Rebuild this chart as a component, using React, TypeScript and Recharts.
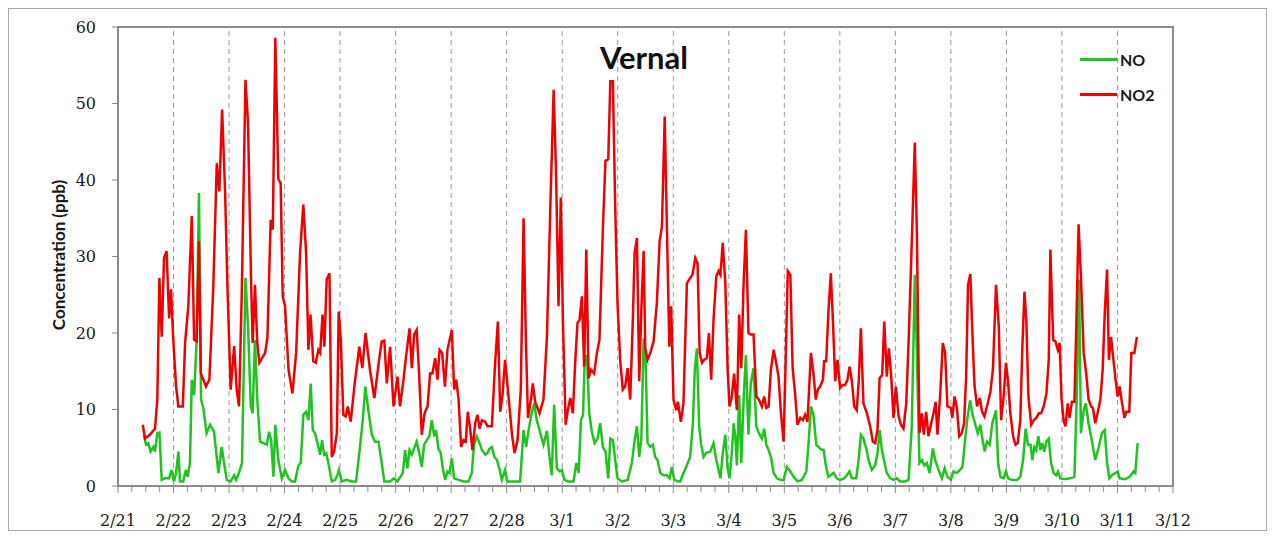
import React from "react";
import {
  LineChart,
  Line,
  XAxis,
  YAxis,
  ReferenceLine,
  ReferenceArea,
} from "recharts";

// x values are hours after 2/21 00:00
const dayLabels = [
  "2/21", "2/22", "2/23", "2/24", "2/25", "2/26", "2/27", "2/28", "3/1", "3/2",
  "3/3", "3/4", "3/5", "3/6", "3/7", "3/8", "3/9", "3/10", "3/11", "3/12",
];
const yTicks = [0, 10, 20, 30, 40, 50, 60];

const no2Hours = [
  10.7, 11.7, 13.8, 16.0, 17.0, 17.9, 18.9, 19.9, 21.0, 22.1, 22.9, 23.9, 25.1, 26.1, 28.0, 29.0,
  30.4, 31.9, 32.9, 34.0, 35.0, 35.8, 36.9, 38.0, 39.5, 41.2, 42.7, 43.8, 45.0, 46.3, 47.3, 48.7,
  50.2, 51.3, 52.3, 53.5, 55.1, 56.2, 57.5, 58.2, 59.2, 60.2, 61.1, 63.6, 64.6, 66.0, 66.9, 68.0,
  69.3, 70.3, 71.2, 72.2, 73.7, 75.4, 77.0, 78.7, 80.1, 81.3, 82.3, 83.2, 84.4, 85.5, 86.6, 87.4,
  88.4, 89.2, 90.2, 91.4, 92.4, 93.4, 94.6, 95.4, 96.3, 97.4, 98.4, 99.3, 100.6, 102.3, 104.3, 105.6,
  107.0, 108.9, 110.8, 112.7, 114.0, 115.1, 116.2, 117.6, 119.1, 120.8, 121.9, 123.4, 124.5, 126.0,
  127.0, 128.0, 129.1, 130.2, 131.3, 132.5, 133.8, 134.9, 135.9, 137.1, 138.1, 139.0, 140.1, 141.3,
  142.4, 144.3, 145.3, 146.2, 147.2, 148.3, 149.3, 150.3, 151.2, 152.2, 153.2, 154.4, 155.4, 156.3,
  157.3, 158.7, 159.7, 161.6, 163.0, 164.2, 165.2, 166.2, 167.3, 168.8, 170.3, 171.4, 172.7, 174.1,
  175.3, 176.3, 177.2, 178.5, 179.3, 180.3, 182.2, 183.9, 185.4, 186.8, 188.3, 189.3, 190.4, 191.4,
  192.3, 193.5, 194.3, 195.5, 196.6, 197.6, 198.6, 199.5, 200.5, 201.5, 202.4, 203.4, 204.4, 205.8,
  207.0, 208.1, 209.6, 210.7, 211.9, 212.8, 213.9, 214.9, 215.9, 217.1, 218.2, 219.2, 220.3, 221.4,
  222.6, 223.3, 224.3, 225.3, 226.2, 227.2, 227.9, 228.9, 230.1, 231.5, 232.9, 234.1, 235.1, 236.3,
  237.3, 238.3, 239.1, 240.1, 241.3, 242.0, 243.3, 244.4, 245.9, 247.3, 248.3, 249.5, 250.5, 251.4,
  252.4, 253.4, 254.5, 255.4, 256.4, 257.4, 258.6, 259.6, 260.4, 261.4, 262.5, 263.5, 264.3, 265.3,
  266.3, 267.5, 268.5, 269.4, 270.4, 271.4, 272.5, 273.5, 274.7, 275.9, 277.0, 278.3, 279.3, 280.2,
  281.2, 282.2, 283.4, 284.5, 285.5, 286.5, 287.7, 288.8, 289.5, 290.6, 291.6, 292.7, 293.7, 294.9,
  296.0, 297.0, 298.0, 299.5, 300.6, 301.6, 302.5, 303.5, 304.7, 305.2, 306.1, 307.1, 308.1, 309.0,
  310.0, 311.0, 312.1, 313.2, 314.3, 315.3, 316.2, 317.2, 318.2, 319.3, 320.2, 321.1, 322.2, 323.7,
  325.1, 326.3, 327.3, 328.3, 329.2, 330.3, 331.2, 332.3, 333.2, 334.2, 335.2, 336.2, 337.4, 338.4,
  339.5, 340.7, 341.8, 343.3, 344.4, 345.3, 346.4, 347.5, 348.3, 349.3, 350.3, 351.5, 352.5, 353.4,
  354.2, 355.4, 356.5, 357.5, 358.5, 360.0, 360.6, 361.6, 362.6, 363.6, 364.7, 365.7, 366.6, 367.4,
  368.4, 369.4, 370.2, 371.3, 372.5, 373.5, 374.5, 375.6, 377.1, 378.2, 379.5, 380.7, 381.7, 382.8,
  383.8, 384.7, 385.7, 386.9, 387.9, 388.9, 390.0, 390.9, 391.8, 392.6, 393.5, 394.7, 395.8, 396.9,
  398.0, 399.0, 400.1, 401.3, 402.3, 403.0, 404.2, 405.2, 406.2, 407.0, 407.8, 408.7, 409.5, 410.5,
  411.3, 412.3, 413.4, 414.2, 415.2, 416.2, 417.4, 418.5, 419.5, 420.6, 421.4, 422.4, 423.4, 424.6,
  425.6, 426.5, 427.5, 428.3, 429.2, 430.1, 431.1, 432.1, 432.9, 433.9, 435.0, 435.8, 437.1, 438.0,
  439.3, 440.4,
];
const no2Values = [
  8.0, 6.2, 6.7, 7.5, 11.3, 27.2, 19.5, 29.8, 30.7, 21.9, 25.7, 19.1, 13.0, 10.4, 10.4, 18.7,
  23.5, 35.3, 19.1, 18.9, 32.0, 14.7, 13.9, 13.0, 13.9, 26.1, 42.2, 38.5, 49.2, 38.3, 26.1, 12.6,
  18.3, 12.6, 10.4, 25.2, 53.1, 47.5, 27.0, 18.7, 26.3, 18.7, 16.1, 17.4, 19.5, 34.8, 33.5, 58.6,
  40.1, 39.6, 24.8, 23.5, 15.2, 12.1, 17.4, 30.5, 36.8, 30.5, 17.8, 22.4, 16.3, 16.1, 17.8, 17.4,
  22.4, 18.2, 27.0, 27.8, 3.8, 4.5, 6.9, 22.8, 19.1, 9.3, 9.1, 10.4, 8.4, 13.4, 18.2, 15.4,
  20.0, 15.2, 11.5, 16.1, 18.9, 19.0, 13.4, 18.2, 10.4, 14.3, 10.4, 13.9, 16.9, 20.6,
  15.4, 19.8, 20.4, 14.3, 6.7, 9.5, 10.4, 14.7, 14.7, 16.7, 13.9, 17.8, 17.4, 13.0,
  17.8, 20.4, 12.6, 13.9, 11.3, 5.1, 6.0, 5.8, 9.7, 7.5, 4.7, 8.2, 9.3, 7.5,
  8.6, 8.4, 7.8, 7.8, 16.1, 21.5, 9.7, 11.9, 16.5, 11.7, 6.7, 4.3, 6.0, 12.6,
  35.0, 19.1, 8.9, 11.3, 13.4, 11.0, 9.5, 11.3, 19.5, 35.7, 51.8, 41.4, 23.5, 37.7,
  21.7, 8.0, 9.7, 11.5, 9.5, 16.1, 21.3, 21.7, 24.8, 15.6, 30.9, 14.1, 15.2, 14.7,
  17.4, 19.1, 33.9, 42.5, 42.7, 52.9, 52.9, 36.6, 23.9, 16.3, 12.6, 13.0, 15.4, 11.3,
  22.4, 30.5, 32.4, 13.7, 23.0, 30.7, 18.0, 16.5, 17.4, 18.9, 23.9, 32.0, 33.9, 48.3,
  33.1, 18.2, 23.5, 11.3, 9.9, 11.0, 8.4, 10.8, 26.5, 27.2, 27.6, 29.8, 29.1, 17.4,
  16.1, 16.5, 16.7, 20.0, 13.9, 21.7, 27.4, 28.1, 27.6, 31.8, 26.5, 15.2, 10.4, 11.7,
  14.7, 9.9, 22.4, 15.4, 26.5, 33.5, 20.0, 19.8, 19.8, 11.7, 11.3, 10.4, 11.7, 10.2,
  10.4, 15.2, 17.8, 16.1, 14.3, 9.7, 5.8, 19.1, 28.1, 27.6, 15.4, 11.9, 8.0, 8.9,
  8.6, 9.3, 8.4, 17.4, 14.7, 11.3, 12.6, 13.0, 13.9, 16.3, 16.3, 23.0, 27.8, 21.7,
  13.7, 16.5, 12.8, 13.2, 13.2, 13.9, 15.6, 13.7, 10.4, 9.9, 13.9, 20.6, 10.8, 9.5,
  7.8, 5.8, 5.6, 7.5, 14.1, 14.5, 21.5, 14.3, 18.0, 14.3, 8.9, 13.0, 9.1, 8.0,
  7.5, 10.8, 19.5, 33.9, 44.9, 33.1, 6.9, 9.5, 6.7, 9.7, 6.5, 8.2, 9.5, 11.0,
  6.7, 12.1, 18.7, 17.4, 10.4, 10.2, 8.9, 11.7, 10.2, 6.5, 6.9, 8.2, 14.3, 26.3,
  27.7, 19.1, 13.2, 10.4, 11.5, 9.7, 9.1, 10.4, 12.3, 15.4, 26.3, 20.9, 8.6, 11.7,
  16.1, 13.7, 9.5, 6.5, 5.4, 5.6, 8.6, 18.2, 25.4, 21.7, 11.7, 8.0, 8.6, 8.9,
  9.5, 9.5, 10.4, 12.1, 16.5, 30.9, 19.1, 18.9, 17.8, 18.7, 11.5, 8.6, 7.8, 10.8,
  8.9, 11.0, 11.0, 20.9, 34.2, 27.4, 17.4, 14.7, 11.3, 10.4, 10.2, 8.2, 9.5, 11.3,
  15.2, 22.6, 28.3, 16.5, 19.5, 16.9, 14.1, 11.7, 13.0, 11.0, 8.9, 9.7, 9.7, 17.4,
  17.4, 19.5,
];

const noHours = [
  11.2, 12.1, 13.1, 14.1, 15.3, 16.0, 17.0, 17.9, 18.9, 20.3, 22.1, 23.2, 24.2, 25.1, 26.1, 26.8,
  28.2, 29.3, 30.1, 31.1, 31.9, 32.9, 34.0, 35.0, 35.9, 36.9, 38.3, 39.8, 41.5, 43.4, 44.8, 46.0,
  47.0, 48.7, 50.2, 51.0, 52.5, 53.6, 55.1, 56.2, 57.4, 58.2, 59.2, 60.2, 61.4, 62.9, 64.3, 65.3,
  66.2, 67.2, 68.0, 69.3, 70.8, 72.2, 73.7, 75.1, 76.5, 78.0, 79.0, 80.1, 81.3, 82.3, 83.3, 84.2,
  85.2, 86.2, 87.4, 88.2, 89.1, 90.0, 91.1, 92.4, 93.8, 94.8, 95.5, 96.7, 98.8, 101.0, 102.9, 104.6,
  105.8, 106.9, 108.2, 109.7, 111.1, 112.6, 114.0, 115.1, 117.6, 119.3, 120.8, 123.1, 124.1, 125.1,
  126.0, 127.0, 128.0, 129.1, 130.2, 131.3, 132.3, 133.5, 134.6, 135.6, 136.7, 137.5, 138.5, 139.5,
  140.4, 141.4, 142.4, 143.3, 144.3, 145.3, 147.2, 149.3, 151.5, 152.9, 153.9, 155.1, 156.3, 157.3,
  158.7, 159.7, 160.6, 161.6, 162.7, 163.8, 164.8, 165.9, 167.3, 168.3, 170.9, 173.8, 175.3, 176.4,
  177.5, 178.9, 179.9, 181.0, 182.2, 183.9, 185.4, 186.5, 187.5, 188.5, 189.7, 190.9, 191.9, 192.9,
  194.7, 196.9, 198.1, 199.1, 200.1, 201.0, 201.8, 202.7, 203.7, 204.8, 206.0, 207.3, 208.4, 209.6,
  210.7, 211.9, 212.8, 213.9, 214.9, 215.9, 217.8, 220.3, 222.1, 223.3, 224.3, 225.3, 226.2, 227.2,
  228.0, 228.9, 230.1, 231.2, 232.2, 233.2, 234.4, 235.8, 237.3, 238.4, 239.4, 240.4, 242.3, 243.0,
  244.4, 245.9, 247.3, 248.5, 249.3, 250.2, 251.2, 252.1, 253.1, 254.2, 256.0, 257.4, 258.6, 259.6,
  260.4, 261.4, 262.5, 263.5, 264.3, 265.3, 266.1, 266.8, 267.5, 268.5, 269.4, 270.4, 271.4, 272.5,
  273.5, 274.7, 275.9, 277.0, 278.3, 279.3, 280.2, 281.2, 282.2, 283.4, 284.8, 286.5, 287.7, 289.1,
  290.6, 292.0, 293.7, 295.6, 297.5, 298.5, 299.5, 300.6, 301.8, 302.8, 303.8, 305.0, 305.9, 307.0,
  308.1, 309.3, 310.7, 312.1, 313.9, 315.0, 316.2, 317.2, 319.1, 320.1, 321.1, 322.2, 323.4, 324.4,
  325.8, 327.3, 328.3, 329.2, 330.2, 331.2, 332.3, 333.8, 335.2, 336.6, 338.1, 340.2, 341.7, 343.1,
  344.4, 345.3, 346.4, 347.5, 348.5, 349.6, 350.8, 352.2, 353.2, 354.7, 356.1, 357.3, 358.5, 360.0,
  361.1, 362.3, 363.3, 365.0, 366.0, 367.1, 368.3, 369.4, 370.6, 371.6, 372.7, 373.6, 374.6, 375.6,
  376.8, 377.9, 379.5, 380.4, 381.4, 382.8, 383.8, 384.7, 386.4, 388.6, 390.0, 391.2, 392.3, 393.3,
  394.4, 395.2, 396.1, 396.9, 397.8, 398.7, 399.5, 400.4, 401.3, 402.3, 403.3, 404.4, 405.5, 406.3,
  407.3, 408.8, 409.5, 411.6, 413.4, 414.5, 415.4, 416.2, 417.4, 418.3, 419.5, 421.0, 422.4, 423.9,
  425.3, 426.5, 427.5, 428.5, 429.6, 431.1, 432.1, 432.9, 435.4, 437.3, 439.0, 439.7, 440.7,
];
const noValues = [
  6.7, 5.4, 5.6, 4.5, 5.1, 4.5, 6.9, 7.0, 0.8, 1.0, 1.0, 2.1, 0.6, 1.7, 4.5, 0.6,
  0.6, 2.1, 1.2, 3.0, 13.9, 11.9, 19.1, 38.3, 11.3, 10.2, 6.9, 8.0, 7.1, 1.7, 5.1, 2.7,
  0.8, 0.6, 1.4, 0.8, 1.9, 3.0, 27.2, 20.9, 10.4, 9.5, 19.1, 11.3, 5.8, 5.6, 5.4, 7.1,
  6.0, 1.2, 8.0, 3.4, 1.0, 2.1, 1.0, 0.6, 0.6, 2.7, 3.0, 9.3, 9.7, 8.6, 13.4, 7.3,
  6.9, 5.6, 4.1, 6.0, 4.1, 4.3, 2.7, 0.6, 0.8, 1.4, 2.1, 0.6, 0.8, 0.6, 0.6, 5.1,
  8.6, 13.0, 9.9, 6.7, 5.8, 5.8, 3.0, 0.6, 0.6, 1.0, 0.6, 1.7, 4.7, 2.3,
  4.7, 4.1, 4.9, 5.8, 4.3, 2.5, 5.4, 6.0, 6.5, 8.6, 6.5, 7.3, 4.9, 4.3,
  2.3, 0.8, 1.9, 1.7, 3.6, 1.0, 0.8, 0.6, 0.6, 1.7, 5.4, 6.5, 5.6, 4.7,
  4.1, 4.3, 4.9, 5.1, 3.8, 3.4, 2.3, 0.8, 2.1, 0.6, 0.6, 0.6, 7.3, 5.1,
  7.3, 9.7, 10.8, 8.6, 7.3, 5.4, 7.2, 3.8, 1.4, 10.6, 2.3, 1.9, 2.1, 0.8,
  0.6, 0.6, 3.0, 1.7, 8.6, 9.3, 17.1, 16.9, 9.5, 7.1, 5.6, 6.2, 8.2, 5.1,
  4.5, 1.0, 6.2, 6.0, 3.4, 1.0, 0.6, 0.8, 3.0, 6.0, 7.8, 3.8, 6.2, 19.3,
  16.9, 5.6, 5.1, 5.4, 3.8, 3.4, 1.7, 1.4, 1.4, 1.0, 2.5, 0.8, 0.6, 0.6,
  1.7, 2.7, 3.8, 8.2, 15.2, 18.0, 7.8, 5.4, 3.8, 4.3, 4.5, 5.6, 3.4, 2.1,
  1.0, 4.3, 6.7, 2.3, 1.0, 4.3, 8.2, 6.5, 2.7, 11.9, 3.0, 11.3, 17.1, 6.7,
  13.4, 15.4, 7.8, 6.9, 6.2, 7.5, 5.4, 4.7, 3.8, 1.7, 1.0, 0.8, 0.8, 2.5,
  1.9, 1.2, 0.6, 0.8, 1.9, 5.6, 10.4, 9.3, 5.4, 5.1, 4.8, 4.7, 2.8, 1.2,
  1.4, 1.7, 1.0, 0.8, 1.0, 1.4, 1.9, 1.0, 1.0, 3.4, 6.7, 6.2, 4.9, 3.4,
  2.1, 2.7, 4.3, 7.3, 4.7, 3.2, 1.7, 1.0, 0.8, 1.0, 0.6, 0.6, 0.8, 7.8,
  27.6, 17.4, 3.0, 3.4, 2.7, 3.0, 1.7, 4.9, 3.4, 2.1, 1.0, 2.3, 1.2, 0.8,
  1.9, 1.7, 1.9, 2.5, 5.6, 8.8, 11.2, 9.3, 8.0, 6.9, 8.0, 6.2, 4.5, 5.8,
  5.4, 8.2, 9.9, 3.0, 1.2, 1.0, 1.9, 1.0, 0.8, 0.8, 1.2, 3.4, 7.5, 5.4,
  5.4, 3.4, 5.1, 4.7, 6.5, 4.7, 5.6, 4.5, 5.8, 6.2, 3.0, 1.7, 1.4, 1.9,
  1.0, 0.9, 0.9, 1.0, 1.2, 13.0, 27.0, 6.9, 9.9, 10.8, 8.2, 5.8, 3.4, 5.1,
  6.9, 7.3, 3.0, 1.0, 1.4, 1.7, 1.9, 1.0, 0.9, 1.2, 1.9, 1.7, 5.6,
];

const xTicks = Array.from({ length: 19 * 4 + 1 }, (_, i) => i * 6);
const dayLines = dayLabels.slice(1, -1).map((_, i) => (i + 1) * 24);

const no2Data = no2Hours.map((h, i) => ({ h, v: no2Values[i] }));
const noData = noHours.map((h, i) => ({ h, v: noValues[i] }));

const AXIS = "#8c8c8c";
const GREEN = "#1fc41f";
const RED = "#f00000";
const tickFont = "'DejaVu Serif', serif";

function DateTick({ x, y, payload }: any) {
  const h = payload.value as number;
  const major = h % 24 === 0;
  return (
    <g>
      <line x1={x} x2={x} y1={y} y2={y + (major ? 7 : 6)} stroke={AXIS} strokeWidth={1} />
      {major && (
        <text x={x} y={y + 40} textAnchor="middle" fontFamily={tickFont} fontSize={16} fill="#1a1a1a">
          {dayLabels[h / 24]}
        </text>
      )}
    </g>
  );
}

function LegendBox() {
  const items = [
    { name: "NO", color: GREEN },
    { name: "NO2", color: RED },
  ];
  return (
    <div style={{ position: "absolute", left: 1071, top: 33 }}>
      {items.map((it) => (
        <div key={it.name} style={{ display: "flex", alignItems: "center", height: 35 }}>
          <div style={{ width: 37, height: 2.5, background: it.color, marginRight: 3 }} />
          <span style={{ fontFamily: "Lato, sans-serif", fontWeight: 700, fontSize: 16, color: "#1a1a1a" }}>
            {it.name}
          </span>
        </div>
      ))}
    </div>
  );
}

export default function App() {
  return (
    <div
      style={{
        position: "relative",
        width: 1259,
        height: 523,
        border: "1px solid #a8a8a8",
        boxSizing: "border-box",
        background: "#fff",
      }}
    >
      <LineChart width={1257} height={521} margin={{ top: 18, right: 93, left: 0, bottom: 0 }}>
        <XAxis
          dataKey="h"
          type="number"
          domain={[0, 456]}
          ticks={xTicks}
          interval={0}
          tick={<DateTick />}
          tickLine={false}
          tickSize={0}
          tickMargin={0}
          height={44}
          axisLine={{ stroke: AXIS, strokeWidth: 2 }}
          allowDataOverflow
        />
        <YAxis
          type="number"
          domain={[0, 60]}
          ticks={yTicks}
          interval={0}
          width={109}
          tickSize={6}
          tickMargin={16}
          tickLine={{ stroke: AXIS }}
          axisLine={{ stroke: AXIS, strokeWidth: 2 }}
          tick={{ fontFamily: tickFont, fontSize: 16, fill: "#1a1a1a" }}
        />
        {dayLines.map((d) => (
          <ReferenceLine key={d} x={d} stroke="#9a9a9a" strokeDasharray="5 4" strokeWidth={1} />
        ))}
        <ReferenceArea x1={0} x2={456} y1={0} y2={60} fill="none" stroke={AXIS} strokeWidth={2} />
        <Line
          data={noData}
          dataKey="v"
          name="NO"
          type="linear"
          stroke={GREEN}
          strokeWidth={2.5}
          dot={false}
          isAnimationActive={false}
        />
        <Line
          data={no2Data}
          dataKey="v"
          name="NO2"
          type="linear"
          stroke={RED}
          strokeWidth={2.5}
          dot={false}
          isAnimationActive={false}
        />
      </LineChart>
      <LegendBox />
      <div
        style={{
          position: "absolute",
          left: 0,
          top: 29,
          width: 1270,
          textAlign: "center",
          fontFamily: "Lato, sans-serif",
          fontWeight: 700,
          fontSize: 31,
          color: "#111",
        }}
      >
        Vernal
      </div>
      <div
        style={{
          position: "absolute",
          left: 49,
          top: 246,
          transform: "translate(-50%, -50%) rotate(-90deg)",
          whiteSpace: "nowrap",
          fontFamily: "Lato, sans-serif",
          fontWeight: 700,
          fontSize: 17,
          color: "#1a1a1a",
        }}
      >
        Concentration (ppb)
      </div>
    </div>
  );
}
